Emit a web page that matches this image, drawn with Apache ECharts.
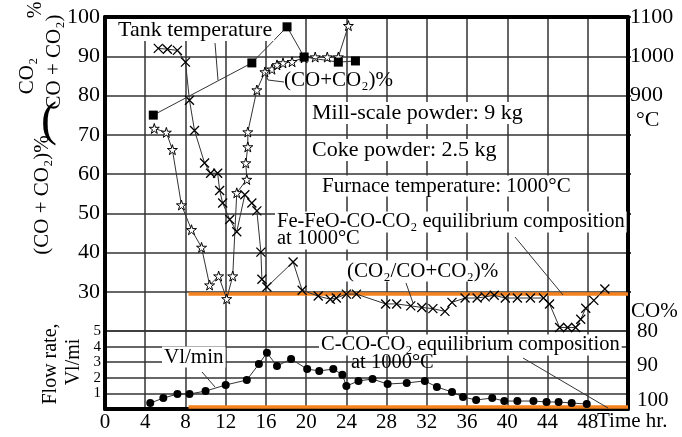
<!DOCTYPE html>
<html><head><meta charset="utf-8">
<script src="https://cdn.jsdelivr.net/npm/echarts/dist/echarts.min.js"></script>
<style>html,body{margin:0;padding:0;background:#fff}#c{width:682px;height:437px}</style>
</head><body><div id="c"></div>
<script>
// ---- data (hours, values) ----
const xTickLabels = [0,4,8,12,16,20,24,28,32,36,40,44,48];
const leftTicks = [30,40,50,60,70,80,90,100];
const tempTicks = [900,1000,1100];
const flowTicks = [1,2,3,4,5];
const coTicks = [80,90,100];

// (CO+CO2)% - star markers
const starHours  = [4.9,6.1,6.7,7.6,8.6,9.6,10.4,11.3,12.1,12.7,13.1,14.1,14.0,14.2,14.2,15.1,15.9,16.6,17.1,17.7,18.6,19.8,20.9,22.1,23.2,24.2];
const starValues = [71.6,70.6,66.2,52.1,45.8,41.3,31.7,34.0,28.2,34.0,55.2,58.6,62.8,66.9,70.7,81.4,86.0,86.7,87.8,88.3,88.6,89.6,89.8,89.8,89.8,97.8];

// (CO2/(CO+CO2))% - cross markers
const crossHours  = [5.3,6.2,7.2,8.0,8.4,8.9,9.9,10.5,11.2,11.4,11.7,12.4,13.1,13.9,14.6,15.1,15.5,15.6,16.1,18.7,19.6,21.2,22.4,23.0,24.0,25.0,27.9,29.0,30.4,31.5,32.6,33.8,34.5,35.8,37.0,37.8,38.7,39.8,41.0,42.3,43.6,44.2,45.2,46.0,46.8,47.3,47.8,48.6,49.7];
const crossValues = [92.0,91.8,91.5,88.5,78.8,71.1,62.8,60.2,60.2,55.8,52.6,48.4,45.3,54.7,52.6,50.6,40.1,33.2,31.2,37.6,30.4,28.9,28.1,28.4,29.4,29.4,26.9,26.9,26.4,26.0,25.7,25.0,27.3,28.4,28.4,28.7,29.1,28.4,28.4,28.4,28.4,26.9,20.9,20.9,20.9,23.0,25.8,27.8,30.7];

// Tank temperature (°C) - square markers
const tankHours = [4.8,14.6,18.1,19.8,23.2,24.9];
const tankTemps = [850,983,1075,998,985,988];

// Flow rate (l/min) - dot markers
const flowHours = [4.5,5.8,7.2,8.4,10.0,12.0,14.1,15.3,16.1,17.1,18.5,20.1,21.3,22.7,23.6,24.0,25.2,26.6,28.1,30.0,31.8,33.0,34.5,35.6,36.9,38.5,39.7,41.0,42.6,43.9,45.1,46.4,47.9];
const flowValues = [0.38,0.70,0.96,0.96,1.15,1.54,1.86,2.88,3.60,2.76,3.20,2.56,2.44,2.56,2.20,1.47,1.80,1.92,1.60,1.67,1.80,1.41,1.09,0.77,0.58,0.70,0.51,0.51,0.51,0.45,0.45,0.38,0.32];

// Equilibrium lines
const feEqHours = [8.3,52];
const feEqValues = [29.4,29.4];
const cEqHours = [8.3,52];
const cEqValues = [0.13,0.13];

const zip = (a,b) => a.map((v,i)=>[v,b[i]]);
const FF = '"Liberation Serif","Times New Roman",serif';
const ORANGE = '#f5821f';
const GRIDC = '#333';
const starPath = 'path://M50,0 L61,35 L98,35 L68,57 L79,91 L50,70 L21,91 L32,57 L2,35 L39,35 Z';
const crossPath = 'path://M0,0 L10,10 M10,0 L0,10';

const chart = echarts.init(document.getElementById('c'));

function txt(x,y,text,opts){
  opts = opts||{};
  return {type:'text', x:x, y:y, z:100, rotation: opts.rot||0,
    style:{text:text, fill:'#000', font:(opts.size||21)+'px '+FF,
      align: opts.align||'left', verticalAlign:'middle',
      backgroundColor: opts.bg ? '#fff' : null, padding: opts.bg ? [0,2,0,2] : 0}};
}
function ln(pts){
  return {type:'polyline', z:99, shape:{points:pts}, style:{stroke:'#333', lineWidth:1, fill:null}};
}

const splitStyle = {show:true, lineStyle:{color:GRIDC, width:1.5}};
const axisLineStyle = {show:true, onZero:false, lineStyle:{color:'#000', width:4}};

chart.setOption({
  animation:false,
  backgroundColor:'#fff',
  grid:[
    {left:105, right:54, top:17, height:314},
    {left:105, right:54, top:331, height:78}
  ],
  xAxis:[
    {gridIndex:0, type:'value', min:0, max:52, interval:4, position:'top',
     axisLine:axisLineStyle, axisTick:{show:false}, axisLabel:{show:false}, splitLine:splitStyle},
    {gridIndex:1, type:'value', min:0, max:52, interval:4, position:'bottom',
     axisLine:axisLineStyle, axisTick:{show:false},
     axisLabel:{fontSize:21, fontFamily:FF, color:'#000', margin:3,
       formatter:v=> xTickLabels.includes(v) ? String(v) : ''},
     splitLine:splitStyle}
  ],
  yAxis:[
    {gridIndex:0, type:'value', min:20, max:100, interval:10, position:'left',
     axisLine:axisLineStyle, axisTick:{show:false},
     axisLabel:{fontSize:22, fontFamily:FF, color:'#000', margin:5, showMinLabel:false,
       formatter:v=> leftTicks.includes(v) ? String(v) : ''},
     splitLine:splitStyle},
    {gridIndex:0, type:'value', min:300, max:1100, interval:100, position:'right',
     axisLine:axisLineStyle, axisTick:{show:true, length:3, lineStyle:{color:'#000',width:1.5}},
     axisLabel:{fontSize:22, fontFamily:FF, color:'#000', margin:2, showMinLabel:false,
       formatter:v=> tempTicks.includes(v) ? String(v) : ''},
     splitLine:{show:false}},
    {gridIndex:1, type:'value', min:0, max:5, interval:1, position:'left',
     axisLine:axisLineStyle, axisTick:{show:false},
     axisLabel:{fontSize:15, lineHeight:12, fontFamily:FF, color:'#000', margin:4,
       showMaxLabel:true, showMinLabel:false, hideOverlap:false,
       formatter:v=> flowTicks.includes(v) ? String(v) : ''},
     splitLine:splitStyle},
    {gridIndex:1, type:'value', min:80, max:102.3, interval:10, inverse:true, position:'right',
     axisLine:axisLineStyle, axisTick:{show:false},
     axisLabel:{fontSize:21, fontFamily:FF, color:'#000', margin:9, showMaxLabel:false,
       formatter:v=> coTicks.includes(v) ? String(v) : ''},
     splitLine:{show:false}}
  ],
  series:[
    {type:'line', name:'FeEq', xAxisIndex:0, yAxisIndex:0, data:zip(feEqHours,feEqValues),
     showSymbol:false, symbol:'none', lineStyle:{color:ORANGE, width:3.5}, z:2, clip:false},
    {type:'line', name:'CEq', xAxisIndex:1, yAxisIndex:2, data:zip(cEqHours,cEqValues),
     showSymbol:false, symbol:'none', lineStyle:{color:ORANGE, width:3.5}, z:2, clip:false},
    {type:'line', name:'CO+CO2', xAxisIndex:0, yAxisIndex:0, data:zip(starHours,starValues),
     symbol:starPath, symbolSize:10, showAllSymbol:true, clip:false,
     itemStyle:{color:'#fff', borderColor:'#000', borderWidth:1},
     lineStyle:{color:'#333', width:1}, z:3},
    {type:'line', name:'CO2 ratio', xAxisIndex:0, yAxisIndex:0, data:zip(crossHours,crossValues),
     symbol:crossPath, symbolSize:9, showAllSymbol:true, clip:false,
     itemStyle:{color:'rgba(0,0,0,0)', borderColor:'#000', borderWidth:1.3},
     lineStyle:{color:'#333', width:1}, z:3},
    {type:'line', name:'Tank', xAxisIndex:0, yAxisIndex:1, data:zip(tankHours,tankTemps),
     symbol:'rect', symbolSize:9, showAllSymbol:true, clip:false,
     itemStyle:{color:'#000'}, lineStyle:{color:'#333', width:1}, z:4},
    {type:'line', name:'Flow', xAxisIndex:1, yAxisIndex:2, data:zip(flowHours,flowValues),
     symbol:'circle', symbolSize:8, showAllSymbol:true, clip:false,
     itemStyle:{color:'#000'}, lineStyle:{color:'#333', width:1}, z:4}
  ],
  graphic:[
    // left titles
    txt(42,195,'(CO + CO₂)%',{size:21, rot:Math.PI/2, align:'center'}),
    txt(49,122,'(',{size:48, align:'center'}),
    txt(27,76,'CO₂',{size:21, rot:Math.PI/2, align:'center'}),
    txt(54,62,'CO + CO₂)',{size:21, rot:Math.PI/2, align:'center'}),
    txt(36,10,'%',{size:20, rot:Math.PI/2, align:'center'}),
    txt(51,364,'Flow rate,',{size:20, rot:Math.PI/2, align:'center'}),
    txt(74,362,'Vl/mi',{size:20, rot:Math.PI/2, align:'center'}),
    // right titles
    txt(636,120,'°C',{size:22}),
    txt(631,311,'CO%',{size:21}),
    txt(597,421,'Time hr.',{size:21}),
    // annotations
    ln([[215,43],[218,80]]),
    txt(116,30,'Tank temperature',{size:22, bg:true}),
    ln([[284,82],[268,80],[265,72]]),
    txt(284,80,'(CO+CO₂)%',{size:21}),
    txt(310,113,'Mill-scale powder: 9 kg',{size:22, bg:true}),
    txt(310,150,'Coke powder: 2.5 kg',{size:22, bg:true}),
    txt(320,186,'Furnace temperature: 1000°C',{size:21, bg:true}),
    ln([[515,237],[563,295]]),
    txt(275,222,'Fe-FeO-CO-CO₂ equilibrium composition',{size:20.5, bg:true}),
    txt(275,239,'at 1000°C',{size:20.5, bg:true}),
    ln([[406,283],[413,303]]),
    txt(345,271,'(CO₂/CO+CO₂)%',{size:21, bg:true}),
    ln([[523,358],[608,408]]),
    txt(319,345,'C-CO-CO₂ equilibrium composition',{size:20.5, bg:true}),
    txt(351,363,'at 1000°C',{size:20.5}),
    ln([[202,372],[215,387]]),
    txt(162,357,'Vl/min',{size:21, bg:true})
  ]
});
</script></body></html>
